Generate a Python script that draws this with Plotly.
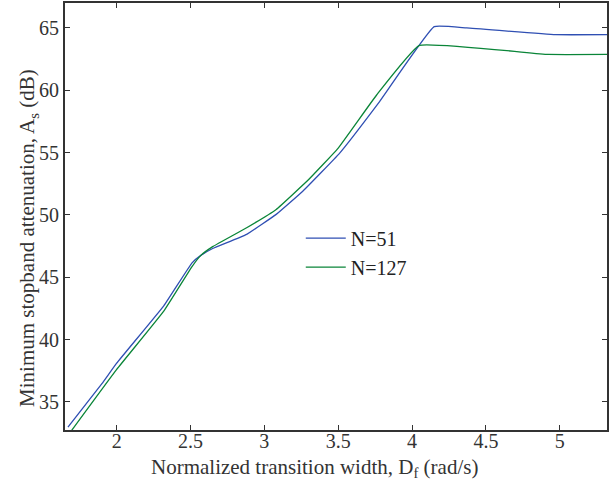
import plotly.graph_objects as go

# N=51
x_n51 = [1.67, 1.9, 2.0, 2.32, 2.51, 2.57, 2.65, 2.88, 3.08, 3.26, 3.51, 3.78, 4.15, 4.37, 4.97, 5.32]
y_n51 = [32.97, 36.46, 38.1, 42.72, 46.15, 46.75, 47.3, 48.44, 50.04, 51.9, 54.96, 59.09, 65.1, 65.0, 64.46, 64.46]

# N=127
x_n127 = [1.67, 2.0, 2.32, 2.51, 2.57, 2.65, 2.88, 3.08, 3.30, 3.50, 3.76, 4.05, 4.92, 5.32]
y_n127 = [32.3, 37.6, 42.3, 45.85, 46.75, 47.45, 48.97, 50.44, 52.84, 55.36, 59.62, 63.6, 62.87, 62.87]

x_ticks = [2, 2.5, 3, 3.5, 4, 4.5, 5]
y_ticks = [35, 40, 45, 50, 55, 60, 65]

x_title = "Normalized transition width, D<sub>f</sub> (rad/s)"
y_title = "Minimum stopband attenuation, A<sub>s</sub> (dB)"

font_family = "Liberation Serif, DejaVu Serif, serif"

fig = go.Figure()
fig.add_trace(go.Scatter(x=x_n51, y=y_n51, mode="lines", name="N=51",
                         line=dict(color="#2f4fb3", width=1.3, shape="spline", smoothing=0.3)))
fig.add_trace(go.Scatter(x=x_n127, y=y_n127, mode="lines", name="N=127",
                         line=dict(color="#0a8538", width=1.3, shape="spline", smoothing=0.3)))

axis_common = dict(
    showline=True, linecolor="#333333", linewidth=2, mirror="ticks",
    ticks="inside", ticklen=5, tickcolor="#333333", tickwidth=1.3,
    showgrid=False, zeroline=False,
    tickfont=dict(family=font_family, size=20, color="#333333"),
)

fig.update_layout(
    width=610, height=482,
    margin=dict(l=65, r=3, t=1, b=52),
    paper_bgcolor="white", plot_bgcolor="white",
    font=dict(family=font_family, size=20, color="#333333"),
    showlegend=True,
    legend=dict(x=0.435, y=0.495, xanchor="left", yanchor="top",
                bgcolor="rgba(0,0,0,0)", borderwidth=0,
                font=dict(family=font_family, size=20, color="#222222"),
                tracegroupgap=0, itemwidth=40),
    xaxis=dict(range=[1.65, 5.32], tickvals=x_ticks,
               ticktext=[str(v) for v in x_ticks],
               ticklabelstandoff=-8,
               **axis_common),
    yaxis=dict(range=[32.74, 67.0], tickvals=y_ticks,
               ticktext=[str(v) for v in y_ticks],
               **axis_common),
)

fig.add_annotation(text=x_title, xref="paper", yref="paper",
                   x=(314 - 65) / 542, y=(430 - 468) / 429,
                   xanchor="center", yanchor="middle", showarrow=False,
                   font=dict(family=font_family, size=21, color="#333333"))
fig.add_annotation(text=y_title, xref="paper", yref="paper",
                   x=(28 - 65) / 542, y=(430 - 237) / 429, textangle=-90,
                   xanchor="center", yanchor="middle", showarrow=False,
                   font=dict(family=font_family, size=21, color="#333333"))

fig.write_html("out.html")
